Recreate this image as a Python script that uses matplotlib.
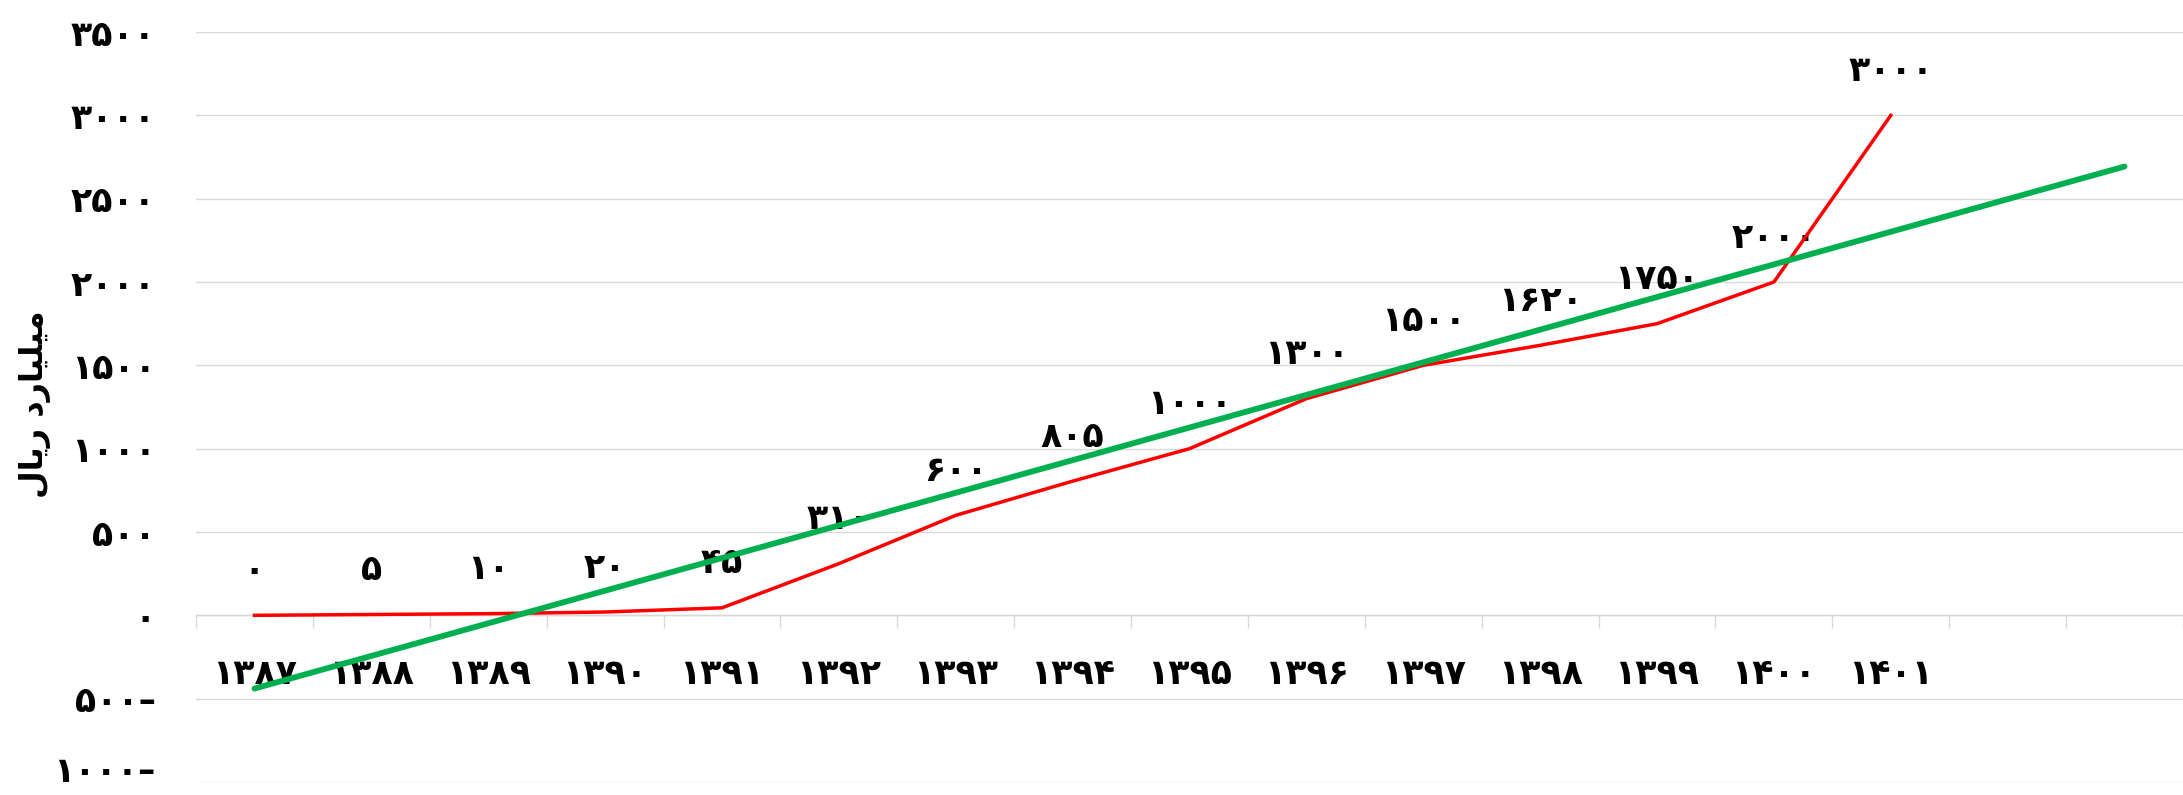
import matplotlib
matplotlib.use('Agg')
import matplotlib.pyplot as plt
import numpy as np
from matplotlib.ticker import FixedLocator, FuncFormatter

# ---------------- data ----------------
years = ['1387', '1388', '1389', '1390', '1391', '1392', '1393', '1394',
         '1395', '1396', '1397', '1398', '1399', '1400', '1401']
values = [0, 5, 10, 20, 45, 310, 600, 805, 1000, 1300, 1500, 1620, 1750, 2000, 3000]
y_ticks = [-1000, -500, 0, 500, 1000, 1500, 2000, 2500, 3000, 3500]
trend_forward = 2
# "میلیارد ریال" written with Arabic presentation forms in visual order
y_label = '\uFEDD\uFE8E\uFEF3\uFEAD \uFEA9\uFEAD\uFE8E\uFEF4\uFEE0\uFEF4\uFEE3'

FA = str.maketrans('0123456789', '۰۱۲۳۴۵۶۷۸۹')


def fa(v):
    return str(v).translate(FA)


def fa_tick(v, pos=None):
    v = int(round(v))
    s = fa(abs(v))
    return s + '\u2013' if v < 0 else s


plt.rcParams['font.family'] = ['DejaVu Sans']
FS = 25
W, H = 2183, 795
fig = plt.figure(figsize=(W / 100, H / 100), dpi=100)
ax = fig.add_axes([196 / W, (H - 782) / H, 1 - 196 / W, 750 / H])

x = np.arange(len(years))
ax.plot(x, values, color='#FF0000', lw=2.5, zorder=3)

coef = np.polyfit(x, values, 1)
xt = np.arange(len(years) + trend_forward)
ax.plot(xt, np.polyval(coef, xt), color='#00B050', lw=4.2, zorder=4,
        solid_capstyle='round')

for xi, v in zip(x, values):
    ax.annotate(fa(v), (xi, v), xytext=(0, 32), textcoords='offset points',
                ha='center', va='center', fontsize=FS, fontweight='bold',
                zorder=2)

ax.set_xlim(-0.5, 16.45)
ax.set_ylim(-1000, 3500)

ax.yaxis.set_major_locator(FixedLocator(y_ticks))
ax.yaxis.set_major_formatter(FuncFormatter(fa_tick))
ax.yaxis.grid(True, color='#D9D9D9', lw=1.0)
ax.set_axisbelow(True)

for s in ['left', 'right', 'top']:
    ax.spines[s].set_visible(False)
ax.spines['bottom'].set_position(('data', 0))
ax.spines['bottom'].set_color('#D9D9D9')
ax.spines['bottom'].set_linewidth(1.0)

ax.set_xticks(x)
ax.set_xticklabels([fa(y) for y in years])
ax.set_xticks(np.arange(-0.5, len(years) + trend_forward, 1.0), minor=True)
ax.tick_params(axis='x', which='major', length=0, pad=30,
               labelsize=FS)
ax.tick_params(axis='x', which='minor', length=9, width=1.0,
               color='#D9D9D9', direction='out')
ax.tick_params(axis='y', length=0, pad=29, labelsize=FS)
for lab in ax.get_xticklabels():
    lab.set_fontweight('bold')
ylabs = ax.get_yticklabels()
for lab in ylabs:
    lab.set_fontweight('bold')
    lab.set_verticalalignment('center_baseline')
# keep the lowest tick label inside the picture
ylabs[0].set_verticalalignment('baseline')

ax.set_ylabel(y_label, fontsize=23, fontweight='bold')
ax.yaxis.label.set_verticalalignment('center')
ax.yaxis.set_label_coords(-0.081, 0.504)

fig.savefig('out.png', dpi=100)
